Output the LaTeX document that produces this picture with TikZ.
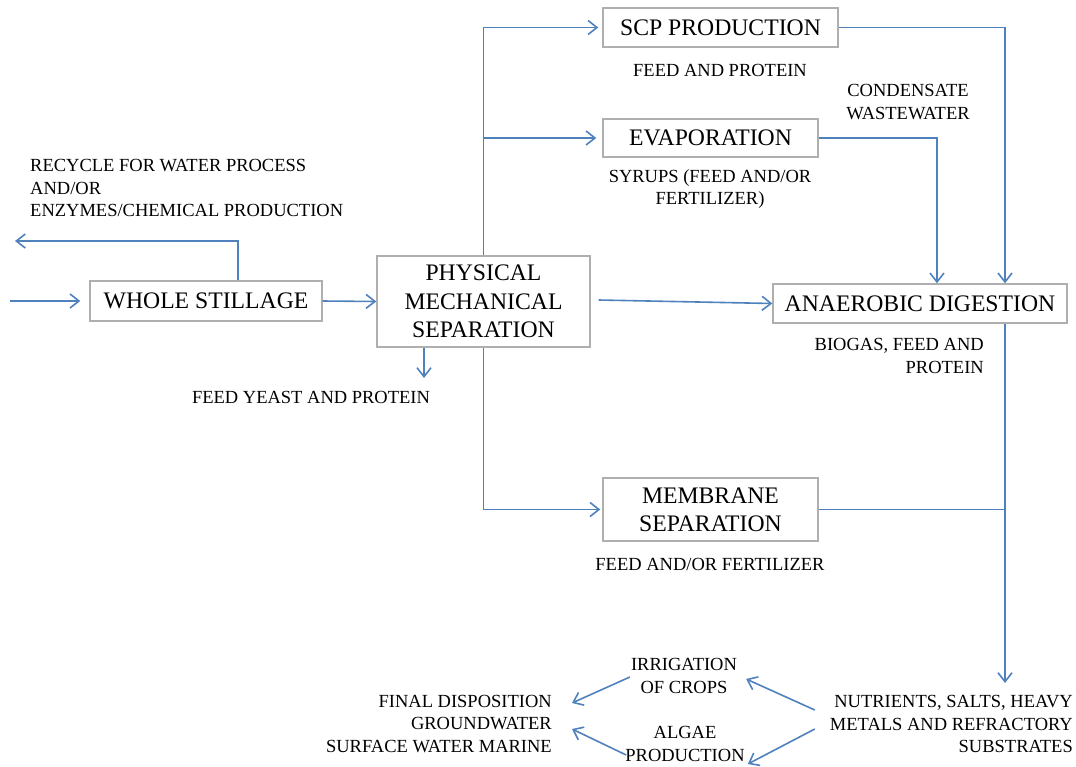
\documentclass[tikz,border=0pt]{standalone}
\usepackage{fontspec}
\setmainfont{Liberation Serif}
\usetikzlibrary{arrows.meta}
\definecolor{lineblue}{RGB}{79,129,189}
\definecolor{boxgray}{RGB}{175,175,175}
\begin{document}
\begin{tikzpicture}[x=1pt,y=-1pt,
  box/.style={draw=boxgray, line width=1.4pt, inner sep=0pt, align=center,
    font=\fontsize{23.7}{28.4}\selectfont},
  lbl/.style={inner sep=0pt, align=center, font=\fontsize{18.5}{22.2}\selectfont},
  flow/.style={draw=lineblue, line width=1.6pt,
    -{Straight Barb[length=9pt,width=14pt,line width=1.6pt]}},
  link/.style={draw=lineblue, line width=1.6pt}]
\useasboundingbox (0,0) rectangle (1076,766);

% boxes
\node[box, minimum width=232pt, minimum height=40pt] (whole) at (206,301) {WHOLE STILLAGE};
\node[box, minimum width=213pt, minimum height=91pt] (pms) at (483.5,301.5) {PHYSICAL\\MECHANICAL\\SEPARATION};
\node[box, minimum width=235pt, minimum height=39pt] (scp) at (720.5,27.5) {SCP PRODUCTION};
\node[box, minimum width=215pt, minimum height=38pt] (evap) at (710.5,138) {EVAPORATION};
\node[box, minimum width=294pt, minimum height=39pt] (ad) at (920,303.5) {ANAEROBIC DIGESTION};
\node[box, minimum width=215pt, minimum height=63pt] (mem) at (710.5,509.5) {MEMBRANE\\SEPARATION};

% labels
\node[lbl, align=left, anchor=west] (recycle) at (30,188) {RECYCLE FOR WATER PROCESS\\AND/OR\\ENZYMES/CHEMICAL PRODUCTION};
\node[lbl] (yeast) at (311,397) {FEED YEAST AND PROTEIN};
\node[lbl] (fap) at (720,70) {FEED AND PROTEIN};
\node[lbl] (syrups) at (710,189) {SYRUPS (FEED AND/OR\\FERTILIZER)};
\node[lbl] (cond) at (908,102) {CONDENSATE\\WASTEWATER};
\node[lbl, align=right, anchor=east] (biogas) at (984,356) {BIOGAS, FEED AND\\PROTEIN};
\node[lbl] (fof) at (710,564) {FEED AND/OR FERTILIZER};
\node[lbl, align=right, anchor=east] (nutr) at (1073,724) {NUTRIENTS, SALTS, HEAVY\\METALS AND REFRACTORY\\SUBSTRATES};
\node[lbl] (irrig) at (684,676) {IRRIGATION\\OF CROPS};
\node[lbl] (algae) at (685,744) {ALGAE\\PRODUCTION};
\node[lbl, align=right, anchor=east] (final) at (552,724) {FINAL DISPOSITION\\GROUNDWATER\\SURFACE WATER MARINE};

% free ends
\coordinate (in) at (10,301);
\coordinate (rec) at (15,241);
\coordinate (fy) at (424,378);
\coordinate (nd) at (1005,683);

% connectors
\draw[flow, shorten >=9pt] (in) -- (whole.west);
\draw[flow] ([xshift=32pt]whole.north) |- (rec);
\draw[flow] (whole.east) -- (pms.west);
\draw[flow, shorten >=4pt] (pms.north) |- (scp.west);
\draw[flow, shorten >=6pt] (pms.north |- evap.west) -- (evap.west);
\draw[flow, shorten >=2pt] (pms.south) |- (mem.west);
\draw[flow] (fy |- pms.south) -- (fy);
\draw[flow] ([shift={(8,-1.5)}]pms.east) -- (ad.west);
\draw[flow] (scp.east) -| (nd |- ad.north);
\draw[flow] (evap.east) -| ([xshift=17pt]ad.north);
\draw[flow] (nd |- ad.south) -- (nd);
\draw[link] (mem.east) -- (mem.east -| nd);
\draw[flow] ([shift={(-15,-14)}]nutr.west) -- ([shift={(9,3)}]irrig.east);
\draw[flow] ([shift={(-15,5)}]nutr.west) -- ([shift={(3,20)}]algae.east);
\draw[flow] ([shift={(-1,1)}]irrig.west) -- ([shift={(20,-21)}]final.east);
\draw[flow] ([shift={(1,11)}]algae.west) -- ([shift={(20,5)}]final.east);
\end{tikzpicture}
\end{document}
